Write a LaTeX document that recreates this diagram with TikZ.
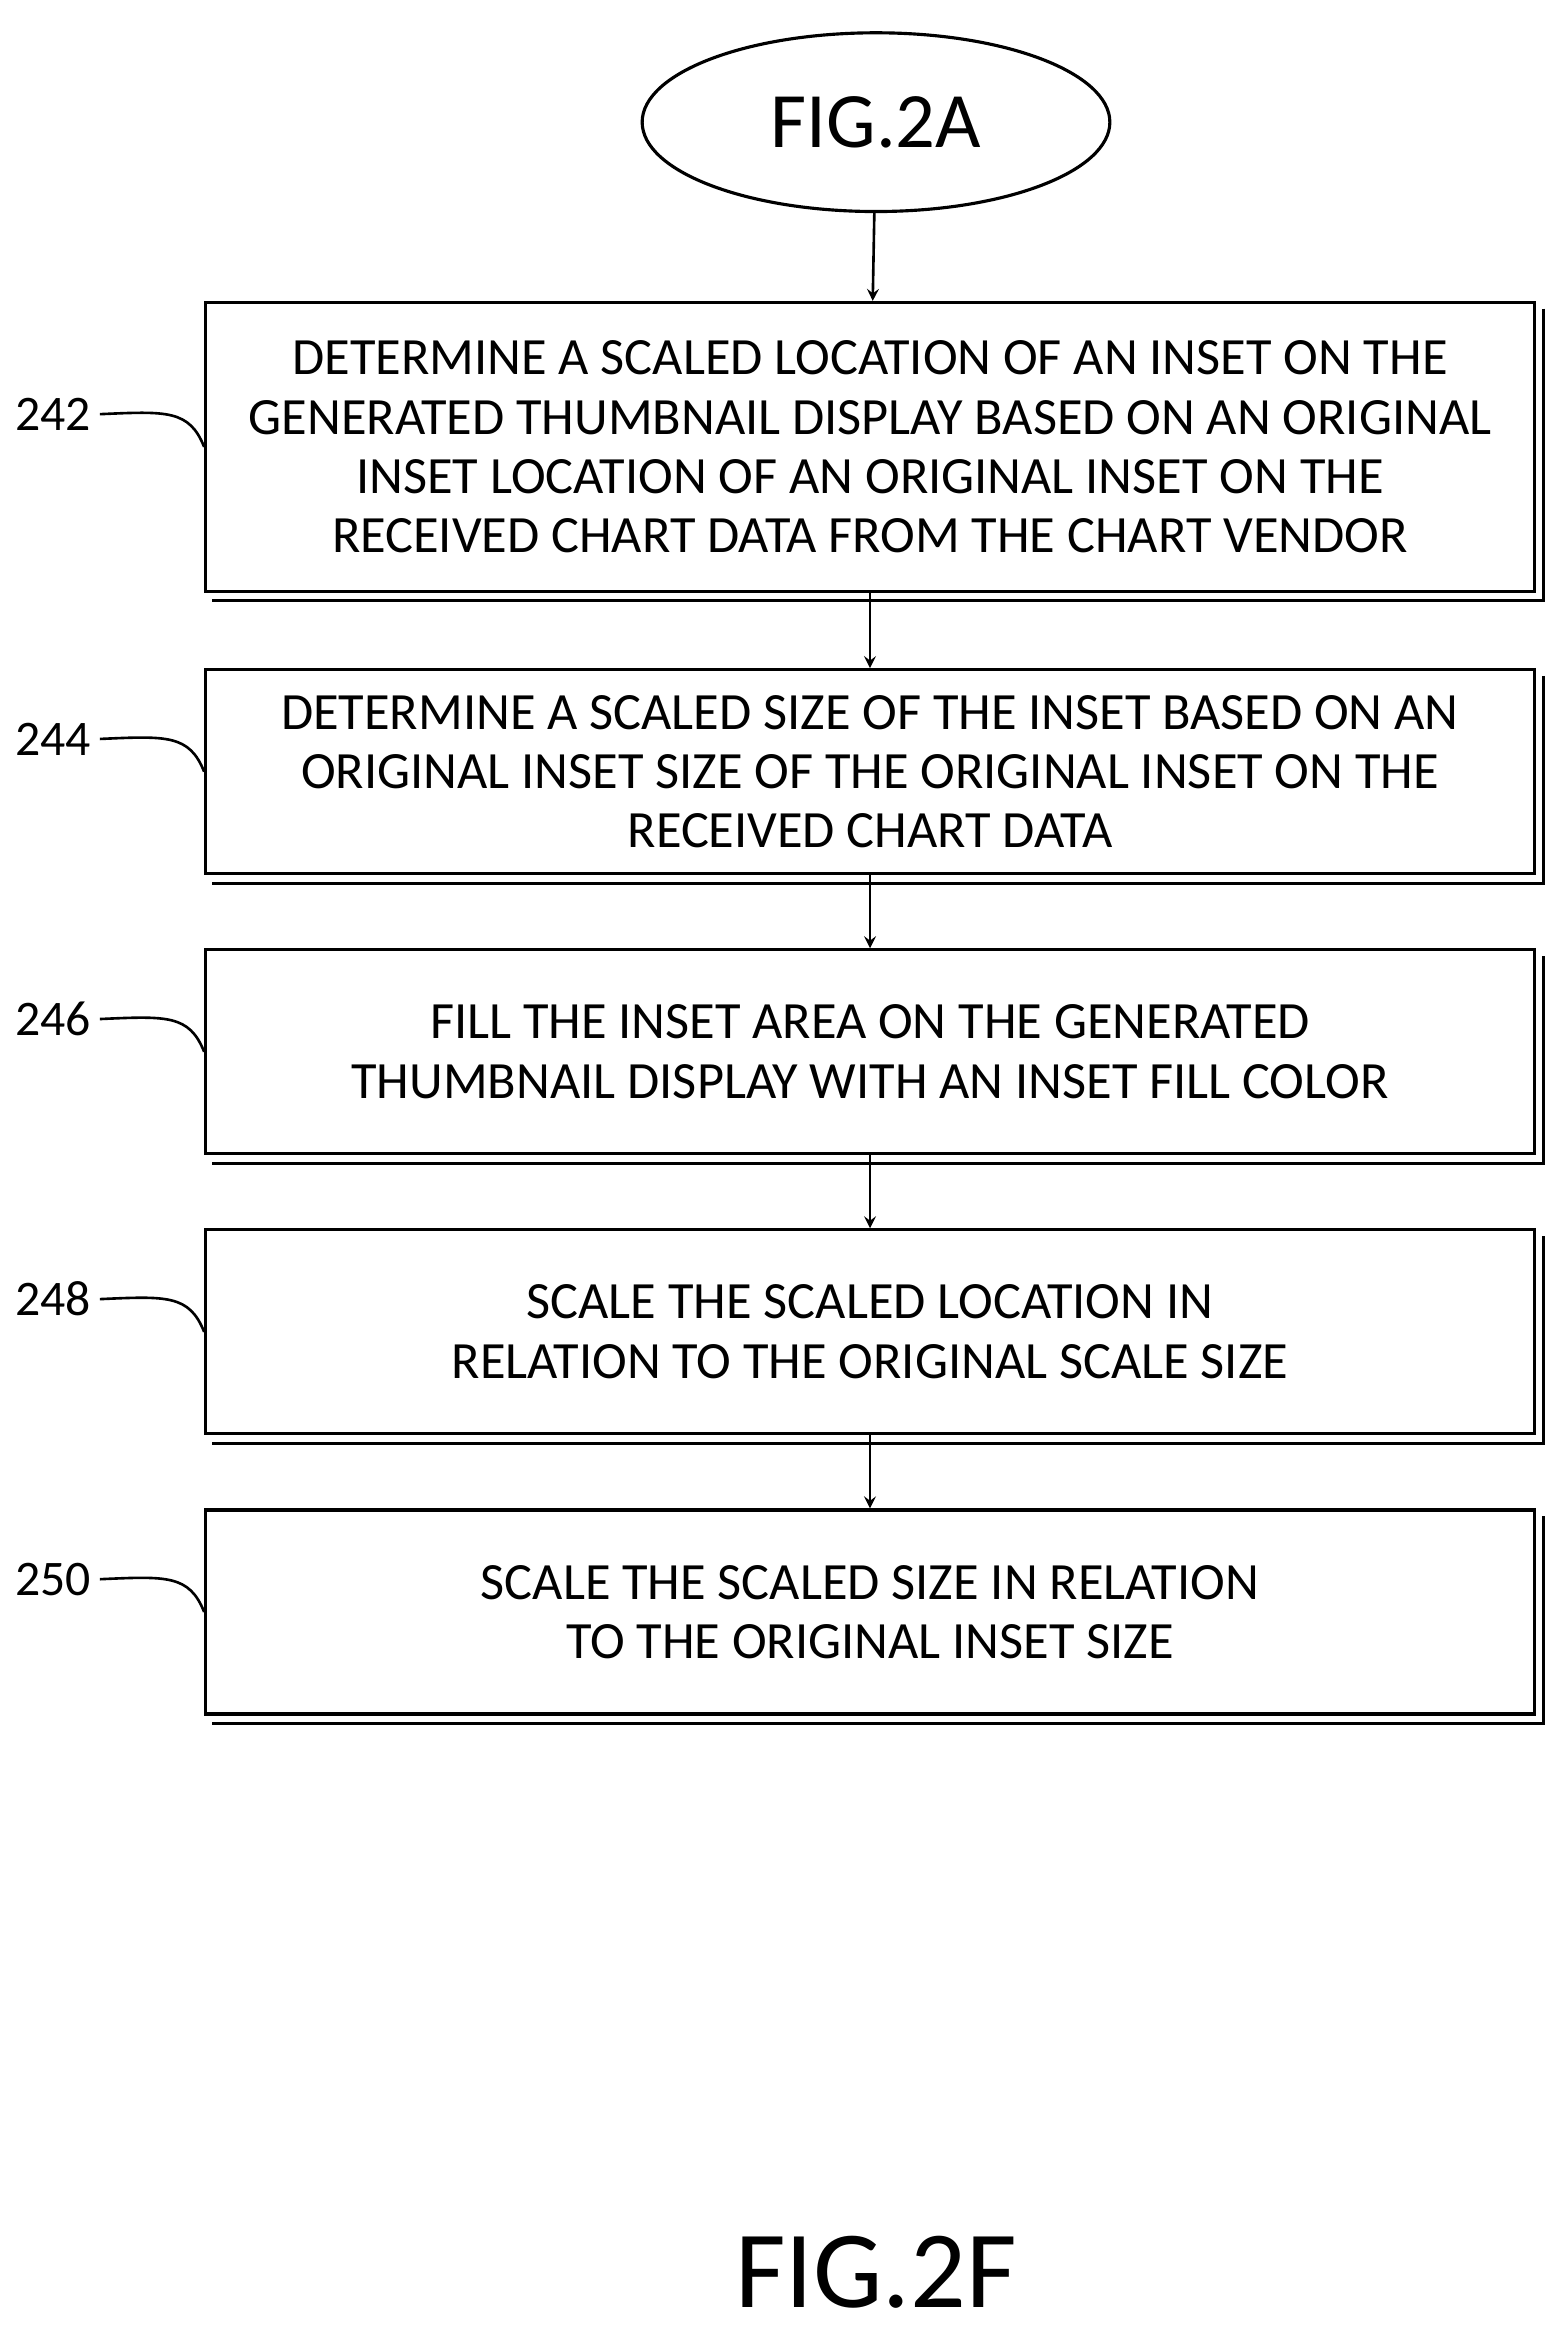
\documentclass[tikz,border=0pt]{standalone}
\usepackage{fontspec}
\setmainfont{Carlito}
\usetikzlibrary{positioning,shapes.geometric}
\tikzset{>=stealth}
\tikzset{
  step/.style={draw,line width=1.2pt,minimum width=17.84cm,minimum height=#1,
    align=center,font=\fontsize{20}{22.7}\selectfont,inner sep=0pt},
  ref/.style={font=\fontsize{19}{22}\selectfont},
  flow/.style={->,line width=1pt}
}
\begin{document}
\begin{tikzpicture}[x=0.02cm,y=-0.02cm]
\useasboundingbox (0,0) rectangle (1049,1568);
\node[draw,ellipse,line width=1.2pt,minimum width=6.28cm,minimum height=2.4cm,
  font=\fontsize{30}{32}\selectfont] (start) at (588,82) {FIG.2A};
\node[step=3.88cm] (s242) at (584,300) {DETERMINE A SCALED LOCATION OF AN INSET ON THE\\GENERATED THUMBNAIL DISPLAY BASED ON AN ORIGINAL\\INSET LOCATION OF AN ORIGINAL INSET ON THE\\RECEIVED CHART DATA FROM THE CHART VENDOR};
\node[step=2.74cm] (s244) at (584,518) {DETERMINE A SCALED SIZE OF THE INSET BASED ON AN\\ORIGINAL INSET SIZE OF THE ORIGINAL INSET ON THE\\RECEIVED CHART DATA};
\node[step=2.74cm] (s246) at (584,706) {FILL THE INSET AREA ON THE GENERATED\\THUMBNAIL DISPLAY WITH AN INSET FILL COLOR};
\node[step=2.74cm] (s248) at (584,894) {SCALE THE SCALED LOCATION IN\\RELATION TO THE ORIGINAL SCALE SIZE};
\node[step=2.74cm] (s250) at (584,1082) {SCALE THE SCALED SIZE IN RELATION\\TO THE ORIGINAL INSET SIZE};
% shadow lines and reference numbers
\foreach \s in {242,244,246,248,250}{
  \draw[line width=1.2pt] ([xshift=3pt,yshift=-3pt]s\s.north east) -- ([xshift=3pt,yshift=-3pt]s\s.south east)
    -- ([xshift=3pt,yshift=-3pt]s\s.south west);
  \node[ref,anchor=east] (r\s) at ([xshift=-1.4cm,yshift=0.44cm]s\s.west) {\s};
  \draw[line width=1pt] (r\s.east) .. controls +(45,-2) and +(-10,-25) .. (s\s.west);
}
\draw[flow] (start) -- (s242);
\draw[flow] (s242) -- (s244);
\draw[flow] (s244) -- (s246);
\draw[flow] (s246) -- (s248);
\draw[flow] (s248) -- (s250);
\node[font=\fontsize{42}{46}\selectfont] (fig) at (588,1525) {FIG.2F};
\end{tikzpicture}
\end{document}
